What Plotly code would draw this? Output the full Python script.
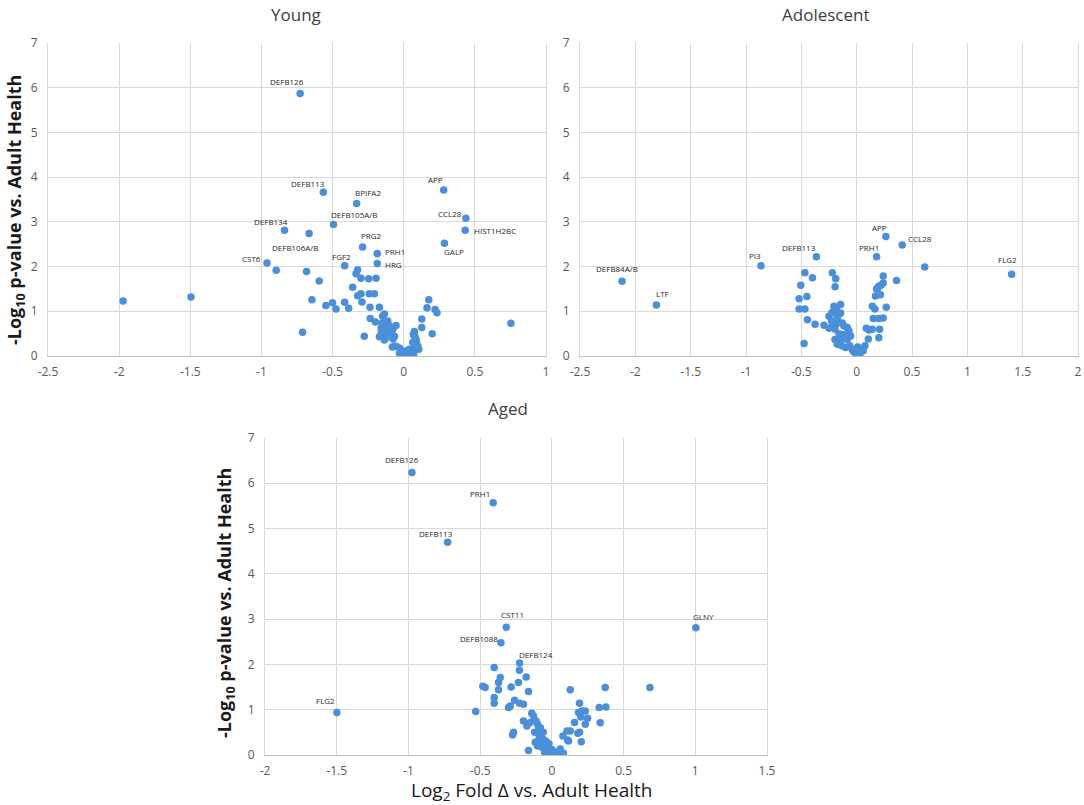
import plotly.graph_objects as go

# ---------------- DATA ----------------
# Young: labelled genes
young_genes = ["DEFB126", "DEFB113", "BPIFA2", "APP", "DEFB105A/B", "CCL28", "HIST1H2BC",
               "DEFB134", "DEFB106A/B", "PRG2", "PRH1", "HRG", "GALP", "CST6", "FGF2"]
young_gene_x = [-0.728, -0.565, -0.331, 0.281, -0.494, 0.437, 0.432,
                -0.838, -0.665, -0.289, -0.186, -0.186, 0.286, -0.961, -0.415]
young_gene_y = [5.87, 3.66, 3.41, 3.71, 2.94, 3.08, 2.81,
                2.81, 2.74, 2.44, 2.29, 2.07, 2.52, 2.08, 2.02]
# Young: other proteins
young_x = [-1.972, -1.495, -0.896, -0.683, -0.594, -0.645, -0.711, 0.753,
           -0.324, -0.335, -0.30, -0.246, -0.194, -0.359, -0.30, -0.324, -0.242, -0.206,
           -0.547, -0.5, -0.476, -0.415, -0.387, -0.293, -0.237, -0.171, -0.277, -0.235,
           -0.199, -0.136, -0.148,
           -0.151, -0.158, -0.128, -0.1, -0.077, -0.089, -0.124, -0.148, -0.065, -0.105,
           -0.158, -0.054, -0.119, -0.171, -0.136, -0.112, -0.09, -0.14, -0.075,
           -0.054, -0.03, 0.0, -0.03, 0.016, 0.04, 0.075, 0.099, 0.087, 0.075, 0.063,
           0.106, 0.005, 0.028, -0.019, -0.066, 0.05, 0.09, -0.08, 0.07, -0.01, 0.02,
           0.176, 0.164, 0.22, 0.234, 0.127, 0.127, 0.2, 0.068, 0.075, 0.08]
young_y = [1.23, 1.32, 1.92, 1.89, 1.68, 1.26, 0.53, 0.73,
           1.93, 1.84, 1.74, 1.73, 1.74, 1.54, 1.39, 1.35, 1.39, 1.39,
           1.13, 1.19, 1.05, 1.20, 1.07, 1.21, 1.09, 1.09, 0.44, 0.84,
           0.76, 0.94, 0.89,
           0.74, 0.63, 0.59, 0.67, 0.59, 0.48, 0.41, 0.48, 0.44, 0.52,
           0.53, 0.68, 0.70, 0.43, 0.36, 0.78, 0.62, 0.55, 0.38,
           0.22, 0.18, 0.07, 0.06, 0.11, 0.15, 0.18, 0.22, 0.37, 0.46, 0.30,
           0.15, 0.02, 0.06, 0.13, 0.21, 0.10, 0.28, 0.20, 0.05, 0.00, 0.03,
           1.26, 1.08, 1.04, 0.97, 0.83, 0.64, 0.50, 0.48, 0.55, 0.42]

# Adolescent
adol_genes = ["DEFB84A/B", "LTF", "PI3", "DEFB113", "PRH1", "APP", "CCL28", "FLG2"]
adol_gene_x = [-2.12, -1.81, -0.865, -0.364, 0.18, 0.264, 0.412, 1.40]
adol_gene_y = [1.67, 1.14, 2.02, 2.22, 2.22, 2.67, 2.48, 1.83]
adol_x = [0.615, 0.36, -0.468, -0.4, -0.22, -0.189, -0.195, -0.505, -0.45, -0.52, -0.52,
          -0.468, -0.445, -0.376, -0.295, -0.25, -0.475,
          0.24, 0.24, 0.2, 0.18, 0.17, 0.215, 0.141, 0.165, 0.267, 0.15, 0.2, 0.24, 0.207,
          0.2, 0.087, 0.11, 0.14, 0.105, 0.075, 0.05, 0.22, 0.19,
          -0.226, -0.205, -0.145, -0.184, -0.25, -0.226, -0.175, -0.145, -0.13, -0.115,
          -0.085, -0.07, -0.196, -0.196, -0.175, -0.135, -0.085, -0.063, -0.04, 0.0, 0.02,
          -0.015, -0.1, -0.145, -0.055, -0.22, -0.21, -0.165, -0.12, -0.16, -0.18, 0.03,
          0.06, -0.03, 0.01]
adol_y = [1.99, 1.69, 1.86, 1.75, 1.86, 1.73, 1.55, 1.58, 1.33, 1.28, 1.05,
          1.05, 0.81, 0.71, 0.69, 0.62, 0.28,
          1.79, 1.63, 1.56, 1.50, 1.34, 1.37, 1.11, 1.05, 1.09, 0.84, 0.84, 0.85, 0.60,
          0.41, 0.62, 0.58, 0.60, 0.38, 0.23, 0.15, 1.58, 1.52,
          0.96, 1.11, 1.15, 1.04, 0.89, 0.78, 0.85, 0.96, 0.74, 0.67,
          0.64, 0.56, 0.60, 0.37, 0.26, 0.23, 0.37, 0.23, 0.15, 0.02, 0.11,
          0.07, 0.19, 0.37, 0.45, 0.67, 1.00, 0.92, 0.48, 0.50, 0.72, 0.05,
          0.12, 0.10, 0.20]

# Aged
aged_genes = ["DEFB126", "PRH1", "DEFB113", "CST11", "DEFB1088", "DEFB124", "GLNY", "FLG2"]
aged_gene_x = [-0.976, -0.409, -0.727, -0.318, -0.355, -0.225, 1.004, -1.499]
aged_gene_y = [6.24, 5.57, 4.70, 2.82, 2.48, 2.03, 2.81, 0.94]
aged_x = [-0.531, 0.684, 0.372, 0.128, -0.226, -0.402, -0.36, -0.372, -0.372, -0.465,
          -0.481, -0.402, -0.402, -0.284, -0.233, -0.179, -0.163, -0.26, -0.302, -0.29,
          -0.226, -0.198, -0.14, -0.128, -0.198, -0.174, -0.151, -0.267, -0.274, -0.1,
          -0.093, -0.081, -0.093, -0.116, -0.058, -0.035, -0.012, 0.012, 0.035, 0.058,
          0.081, -0.163, -0.07, -0.047, 0.077, 0.109, 0.128, 0.158, 0.181, 0.193, 0.205,
          0.193, 0.186, 0.209, 0.233, 0.249, 0.233, 0.202, 0.33, 0.377, 0.337, 0.105,
          0.116, -0.12, -0.09, -0.06, -0.1, -0.02, -0.05, 0.0, -0.08, -0.11, -0.06, -0.04]
aged_y = [0.96, 1.49, 1.49, 1.44, 1.87, 1.93, 1.71, 1.60, 1.44, 1.49,
          1.52, 1.27, 1.14, 1.50, 1.60, 1.72, 1.40, 1.21, 1.05, 1.08,
          1.14, 1.12, 0.92, 0.86, 0.75, 0.64, 0.72, 0.50, 0.44, 0.68,
          0.57, 0.42, 0.32, 0.28, 0.28, 0.17, 0.06, 0.02, 0.06, 0.13,
          0.04, 0.10, 0.17, 0.10, 0.42, 0.33, 0.53, 0.72, 0.48, 0.50, 0.29,
          1.14, 0.94, 0.97, 0.97, 0.81, 0.68, 0.84, 1.05, 1.06, 0.71, 0.53,
          0.31, 0.50, 0.45, 0.35, 0.20, 0.25, 0.05, 0.12, 0.60, 0.75, 0.50, 0.30]

# Tick labels
y_ticks = [0, 1, 2, 3, 4, 5, 6, 7]
y_tick_text = ["0", "1", "2", "3", "4", "5", "6", "7"]
young_xticks = [-2.5, -2, -1.5, -1, -0.5, 0, 0.5, 1]
young_xtick_text = ["-2.5", "-2", "-1.5", "-1", "-0.5", "0", "0.5", "1"]
adol_xticks = [-2.5, -2, -1.5, -1, -0.5, 0, 0.5, 1, 1.5, 2]
adol_xtick_text = ["-2.5", "-2", "-1.5", "-1", "-0.5", "0", "0.5", "1", "1.5", "2"]
aged_xticks = [-2, -1.5, -1, -0.5, 0, 0.5, 1, 1.5]
aged_xtick_text = ["-2", "-1.5", "-1", "-0.5", "0", "0.5", "1", "1.5"]

# ---------------- STYLE ----------------
W, H = 1084, 805
DOT = "#4a8fd8"
GRID = "#d9d9d9"
FONT = "Open Sans"

# label offsets in pixels (xshift, yshift) per labelled gene
young_offsets = [(-13, 12), (-15, 9), (11, 11), (-8, 11), (21, 10), (-16, 5), (30, 0),
                 (-13, 9), (-14, -14), (9, 11), (18, 2), (16, -1), (10, -8), (-15, 4), (-3, 9)]
adol_offsets = [(-5, 13), (6, 12), (-6, 10), (-17, 9), (-8, 9), (-6, 9), (18, 7), (-4, 15)]
aged_offsets = [(-10, 13), (-13, 9), (-12, 9), (6, 13), (-22, 4), (16, 9), (8, 11), (-11, 12)]

panels = [
    dict(name="Young", xa="x", ya="y", gx=young_gene_x, gy=young_gene_y, genes=young_genes,
         off=young_offsets, ox=young_x, oy=young_y, rng=[-2.5, 1], tv=young_xticks,
         tt=young_xtick_text, dom_x=[48 / W, 546 / W], dom_y=[1 - 356 / H, 1 - 43 / H]),
    dict(name="Adolescent", xa="x2", ya="y2", gx=adol_gene_x, gy=adol_gene_y, genes=adol_genes,
         off=adol_offsets, ox=adol_x, oy=adol_y, rng=[-2.5, 2], tv=adol_xticks,
         tt=adol_xtick_text, dom_x=[580 / W, 1078 / W], dom_y=[1 - 356 / H, 1 - 43 / H]),
    dict(name="Aged", xa="x3", ya="y3", gx=aged_gene_x, gy=aged_gene_y, genes=aged_genes,
         off=aged_offsets, ox=aged_x, oy=aged_y, rng=[-2, 1.5], tv=aged_xticks,
         tt=aged_xtick_text, dom_x=[265 / W, 767 / W], dom_y=[1 - 755 / H, 1 - 438 / H]),
]

fig = go.Figure()
annotations = []
layout_axes = {}
for i, p in enumerate(panels):
    fig.add_trace(go.Scatter(x=p["ox"] + p["gx"], y=p["oy"] + p["gy"], mode="markers",
                             xaxis=p["xa"], yaxis=p["ya"], showlegend=False,
                             marker=dict(color=DOT, size=7.5, line=dict(width=0))))
    for g, gx, gy, (dx, dy) in zip(p["genes"], p["gx"], p["gy"], p["off"]):
        annotations.append(dict(x=gx, y=gy, xref=p["xa"], yref=p["ya"], text=g,
                                showarrow=False, xshift=dx, yshift=dy,
                                xanchor="center", yanchor="middle",
                                font=dict(family=FONT, size=8, color="#262626")))
    suffix = "" if i == 0 else str(i + 1)
    layout_axes["xaxis" + suffix] = dict(
        domain=p["dom_x"], range=p["rng"], anchor=p["ya"], tickvals=p["tv"], ticktext=p["tt"],
        showgrid=True, gridcolor=GRID, gridwidth=1, zeroline=False, automargin=False,
        showline=True, linecolor="#bfbfbf", linewidth=1.3, ticks="", ticklabelstandoff=4,
        tickfont=dict(family=FONT, size=12, color="#595959"), fixedrange=True)
    layout_axes["yaxis" + suffix] = dict(
        domain=p["dom_y"], range=[0, 7], anchor=p["xa"], tickvals=y_ticks, ticktext=y_tick_text,
        showgrid=True, gridcolor=GRID, gridwidth=1, zeroline=False, automargin=False,
        showline=True, mirror=True, linecolor=GRID, linewidth=1, ticks="",
        ticklabelstandoff=7,
        tickfont=dict(family=FONT, size=12, color="#595959"), fixedrange=True)

# panel titles
for txt, px, py in [("Young", 296, 14), ("Adolescent", 826, 14), ("Aged", 508, 408)]:
    annotations.append(dict(x=px / W, y=1 - py / H, xref="paper", yref="paper", text=txt,
                            showarrow=False, xanchor="center", yanchor="middle",
                            font=dict(family=FONT, size=17, color="#404040")))

ytitle = "<b>-Log<sub>10</sub> p-value vs. Adult Health</b>"
for px, py in [(15, 210), (225, 603)]:
    annotations.append(dict(x=px / W, y=1 - py / H, xref="paper", yref="paper", text=ytitle,
                            textangle=-90, showarrow=False, xanchor="center", yanchor="middle",
                            font=dict(family=FONT, size=18, color="#1a1a1a")))
annotations.append(dict(x=531 / W, y=1 - 791 / H, xref="paper", yref="paper",
                        text="Log<sub>2</sub> Fold Δ vs. Adult Health", showarrow=False,
                        xanchor="center", yanchor="middle",
                        font=dict(family=FONT, size=19, color="#1a1a1a")))

fig.update_layout(width=W, height=H, margin=dict(l=0, r=0, t=0, b=0, autoexpand=False),
                  paper_bgcolor="white", plot_bgcolor="white", hovermode=False,
                  annotations=annotations, **layout_axes)

fig.write_html("out.html", config={"displayModeBar": False, "staticPlot": True},
               post_script="document.body.style.margin='0px';"
                           "document.body.style.overflow='hidden';")
